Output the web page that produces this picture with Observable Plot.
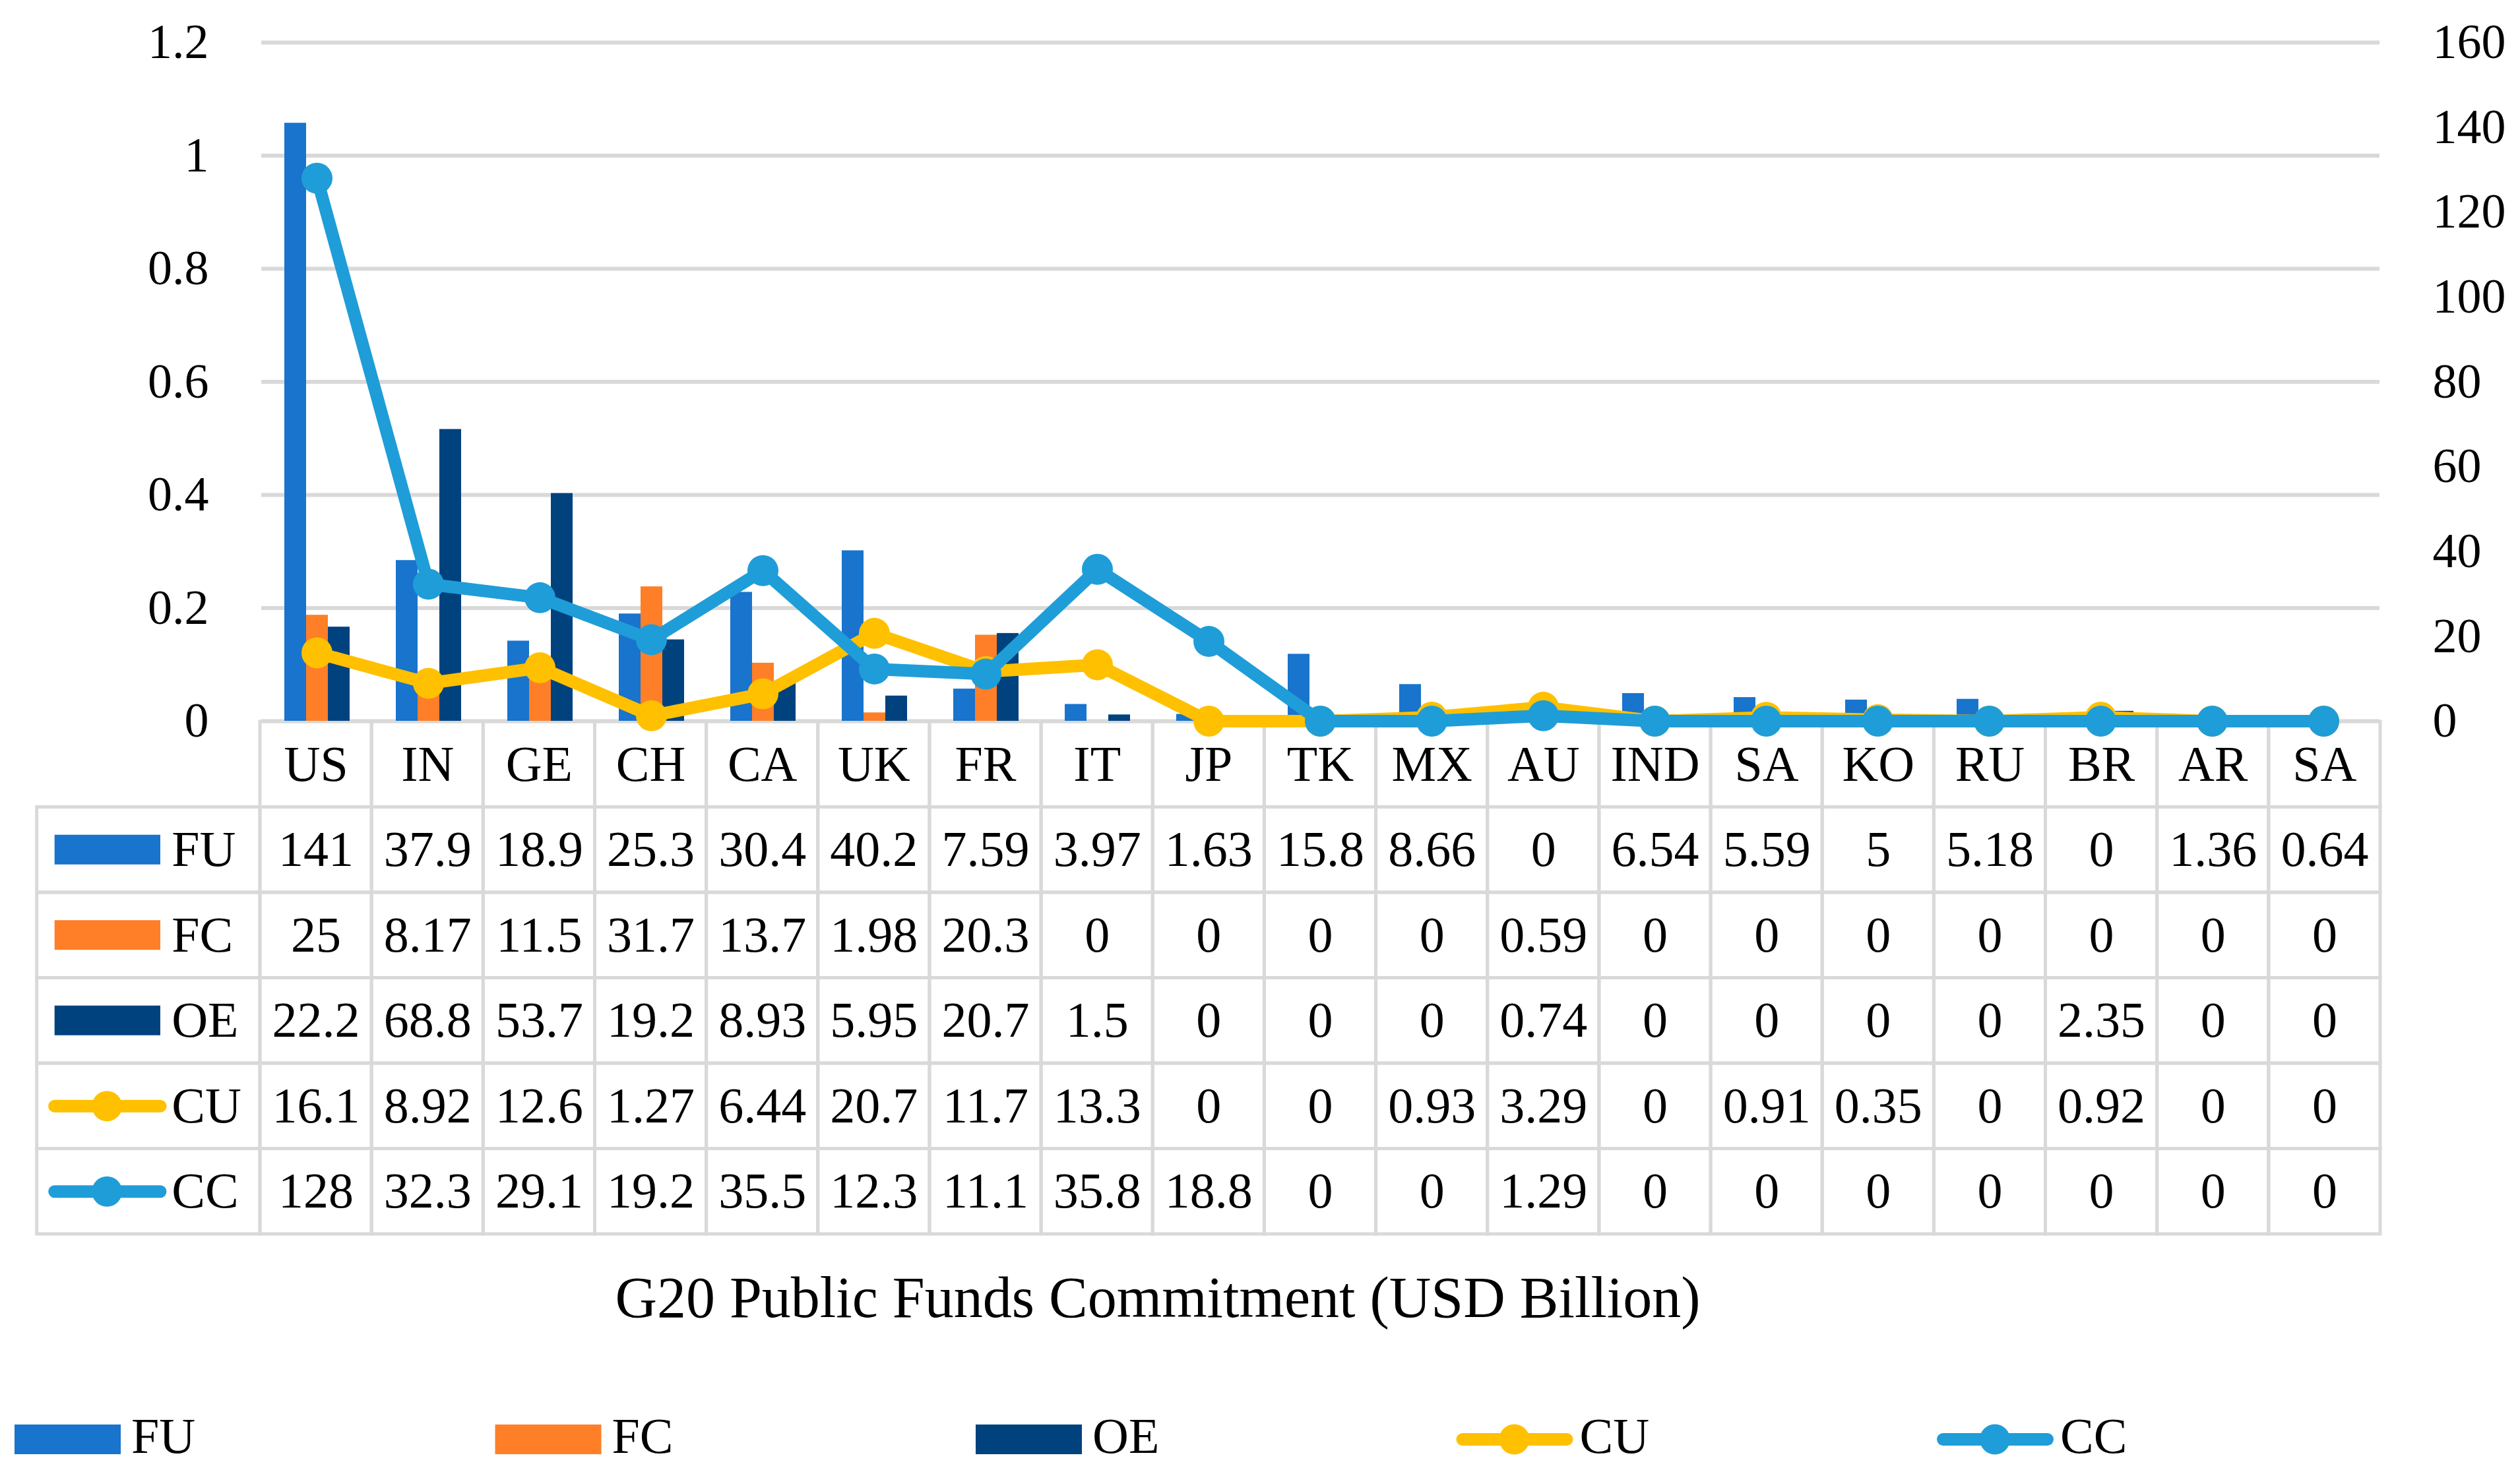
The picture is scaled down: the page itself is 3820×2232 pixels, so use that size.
<!DOCTYPE html>
<html><head><meta charset="utf-8">
<script src="https://cdn.jsdelivr.net/npm/d3@7"></script>
<script src="https://cdn.jsdelivr.net/npm/@observablehq/plot@0.6"></script>
<style>
html,body{margin:0;padding:0;background:#fff;}
#root{position:relative;width:3820px;height:2232px;overflow:hidden;font-family:"Liberation Serif",serif;background:#fff;}
.layer{position:absolute;left:0;}
#title{position:absolute;left:0;top:1924px;width:3510px;text-align:center;font-size:88px;line-height:88px;color:#000;}
</style></head><body><div id="root"></div>
<script>
// ---- data ----
const categories = ["US","IN","GE","CH","CA","UK","FR","IT","JP","TK","MX","AU","IND","SA","KO","RU","BR","AR","SA"];
const barSeries = ["FU","FC","OE"];
const lineSeries = ["CU","CC"];
const FU = [141,37.9,18.9,25.3,30.4,40.2,7.59,3.97,1.63,15.8,8.66,0,6.54,5.59,5,5.18,0,1.36,0.64];
const FC = [25,8.17,11.5,31.7,13.7,1.98,20.3,0,0,0,0,0.59,0,0,0,0,0,0,0];
const OE = [22.2,68.8,53.7,19.2,8.93,5.95,20.7,1.5,0,0,0,0.74,0,0,0,0,2.35,0,0];
const CU = [16.1,8.92,12.6,1.27,6.44,20.7,11.7,13.3,0,0,0.93,3.29,0,0.91,0.35,0,0.92,0,0];
const CC = [128,32.3,29.1,19.2,35.5,12.3,11.1,35.8,18.8,0,0,1.29,0,0,0,0,0,0,0];
const leftTicks = [0,0.2,0.4,0.6,0.8,1,1.2];
const rightTicks = [0,20,40,60,80,100,120,140,160];
const title = "G20 Public Funds Commitment (USD Billion)";

const allSeries = [...barSeries, ...lineSeries];
const seriesColors = ["#1874cd","#fe7f27","#00427e","#ffc000","#1f9dd8"];
const values = {FU, FC, OE, CU, CC};
const leftMax = 1.2, rightMax = 160;

// ---- geometry ----
const W = 3820, ML = 394, MR = 212, MT = 64, baseY = 1093;
const FONT = "'Liberation Serif', serif";
const svgStyle = (fs) => `background: transparent; overflow: visible; font-family: ${FONT}; font-size: ${fs}px; color: #000;`;
const idx = d3.range(categories.length);
const colorScale = {domain: allSeries, range: seriesColors};
const gridValues = leftTicks.map(t => t * rightMax / leftMax);

const root = document.getElementById("root");

// ---- table (below chart) ----
const tableRows = ["header", ...allSeries];
const rowOf = r => tableRows.indexOf(r);
const step = (W - ML - MR) / categories.length;
const tML = ML - 2 * step;
const cells = [];
idx.forEach(i => tableRows.forEach(r => cells.push({x1: i, x2: i + 1, k: rowOf(r)})));
allSeries.forEach(s => cells.push({x1: -2, x2: 0, k: rowOf(s)}));
const tableText = idx.flatMap(i => allSeries.map(s => ({i, k: rowOf(s), t: String(values[s][i])})));

const tableTop = 1000;
const table = Plot.plot({
  width: W, height: 900,
  marginLeft: tML, marginRight: MR, marginTop: baseY + 1 - tableTop, marginBottom: 900 - (1871 - tableTop),
  style: svgStyle(76),
  x: {domain: [-2, categories.length], axis: null},
  y: {domain: [0, tableRows.length], reverse: true, axis: null},
  color: colorScale,
  marks: [
    Plot.rect(cells, {x1: "x1", x2: "x2", y1: "k", y2: d => d.k + 1, fill: "none", stroke: "#d9d9d9", strokeWidth: 5}),
    Plot.text(idx, {x: i => i + 0.5, y: () => 0.5, text: i => categories[i], fontSize: 76, fill: "#000"}),
    Plot.text(tableText, {x: d => d.i + 0.5, y: d => d.k + 0.5, text: "t", fontSize: 76, fill: "#000"}),
    Plot.rect(barSeries, {x1: -2, x2: 0, y1: s => rowOf(s) + 0.5, y2: s => rowOf(s) + 0.5, insetLeft: 27, insetRight: 151, insetTop: -22.5, insetBottom: -22.5, fill: s => s}),
    Plot.ruleY(lineSeries, {x1: -2, x2: 0, y: s => rowOf(s) + 0.5, insetLeft: 27, insetRight: 151, stroke: s => s, strokeWidth: 19, strokeLinecap: "round"}),
    Plot.dot(lineSeries, {x: -2, y: s => rowOf(s) + 0.5, dx: 106, r: 23, fill: s => s, stroke: "none"}),
    Plot.text(allSeries, {x: -2, y: s => rowOf(s) + 0.5, dx: 204, text: s => s, textAnchor: "start", fontSize: 76, fill: "#000"})
  ]
});
table.classList.add("layer"); table.style.top = tableTop + "px";
root.appendChild(table);

// ---- bars (faceted by country) ----
const barData = barSeries.flatMap(s => idx.map(i => ({i, s, v: values[s][i]})));
const chartH = baseY + 30;
const bars = Plot.plot({
  width: W, height: chartH,
  marginLeft: ML, marginRight: MR, marginTop: MT, marginBottom: 30,
  style: svgStyle(74),
  fx: {domain: idx, padding: 0, axis: null, label: null},
  x: {domain: barSeries, paddingInner: 0, paddingOuter: 1.06, axis: null, label: null},
  y: {domain: [0, rightMax], axis: null, label: null},
  color: colorScale,
  marks: [
    Plot.ruleY(gridValues, {stroke: "#d9d9d9", strokeWidth: 6}),
    Plot.barY(barData, {fx: "i", x: "s", y: "v", fill: "s"})
  ]
});
bars.classList.add("layer"); bars.style.top = "0px";
root.appendChild(bars);

// ---- lines + axes ----
const lineData = lineSeries.flatMap(s => idx.map(i => ({i, s, v: values[s][i]})));
const lineMarks = lineSeries.flatMap(s => [
  Plot.line(lineData.filter(d => d.s === s), {x: "i", y: "v", stroke: "s", strokeWidth: 19, strokeLinejoin: "round"}),
  Plot.dot(lineData.filter(d => d.s === s), {x: "i", y: "v", fill: "s", r: 23.5, stroke: "none"})
]);
const lines = Plot.plot({
  width: W, height: chartH,
  marginLeft: ML, marginRight: MR, marginTop: MT, marginBottom: 30,
  style: svgStyle(74),
  x: {type: "point", domain: idx, padding: 0.5, axis: null, label: null},
  y: {domain: [0, rightMax], label: null},
  color: colorScale,
  marks: [
    Plot.axisY({anchor: "left", ticks: gridValues, tickFormat: d => String(+(d * leftMax / rightMax).toFixed(2)), tickSize: 0, tickPadding: 78, fontSize: 74, label: null}),
    Plot.axisY({anchor: "right", ticks: rightTicks, tickFormat: d => String(d), tickSize: 0, tickPadding: 79, fontSize: 74, label: null}),
    ...lineMarks
  ]
});
lines.classList.add("layer"); lines.style.top = "0px";
root.appendChild(lines);

// ---- title ----
const t = document.createElement("div");
t.id = "title"; t.textContent = title;
root.appendChild(t);

// ---- legend ----
const legend = d3.select(root).append("svg")
  .attr("class", "layer").style("top", "2130px")
  .attr("width", W).attr("height", 100)
  .style("font-family", FONT);
allSeries.forEach((s, k) => {
  const g = legend.append("g").attr("transform", `translate(${22 + k * 728.5},0)`);
  const c = seriesColors[k];
  if (barSeries.includes(s)) {
    g.append("rect").attr("x", 0).attr("y", 30).attr("width", 161).attr("height", 45).attr("fill", c);
    g.append("text").attr("x", 177).attr("y", 73).attr("font-size", 76).text(s);
  } else {
    g.append("line").attr("x1", 9.5).attr("x2", 167.5).attr("y1", 52.5).attr("y2", 52.5)
      .attr("stroke", c).attr("stroke-width", 19).attr("stroke-linecap", "round");
    g.append("circle").attr("cx", 88).attr("cy", 52.5).attr("r", 23).attr("fill", c);
    g.append("text").attr("x", 187).attr("y", 73).attr("font-size", 76).text(s);
  }
});
</script></body></html>
